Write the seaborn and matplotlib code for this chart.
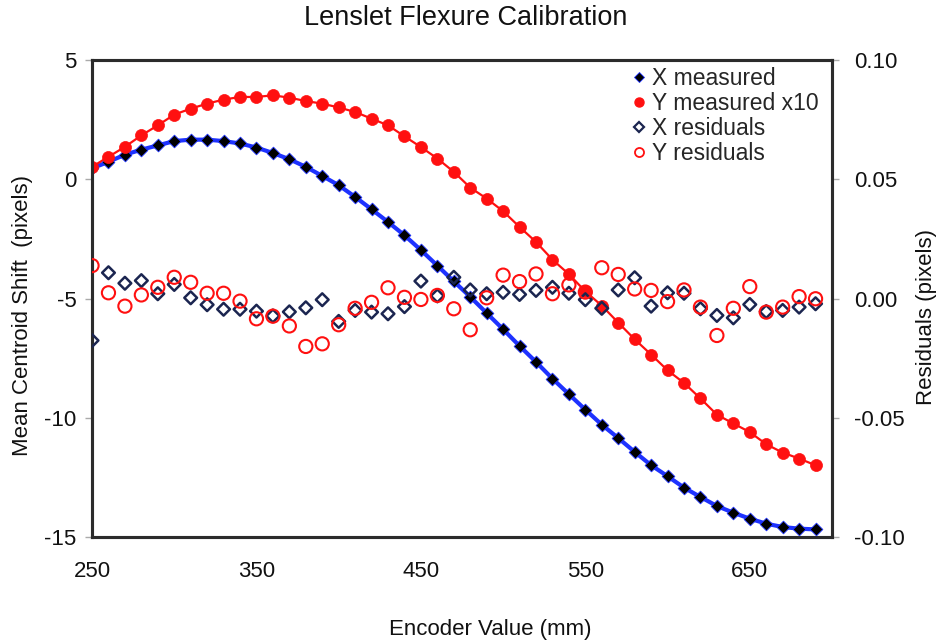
import matplotlib
matplotlib.use("Agg")
import matplotlib.pyplot as plt
import seaborn as sns
import pandas as pd
from matplotlib.lines import Line2D

encoder = [250, 260, 270, 280, 290, 300, 310, 320, 330, 340,
           350, 360, 370, 380, 390, 400, 410, 420, 430, 440,
           450, 460, 470, 480, 490, 500, 510, 520, 530, 540,
           550, 560, 570, 580, 590, 600, 610, 620, 630, 640,
           650, 660, 670, 680, 690]

x_measured = [0.46, 0.73, 1.03, 1.24, 1.42, 1.60, 1.66, 1.66, 1.60, 1.50,
              1.33, 1.10, 0.84, 0.52, 0.14, -0.25, -0.74, -1.26, -1.79, -2.35,
              -2.97, -3.62, -4.28, -4.93, -5.61, -6.29, -6.99, -7.66, -8.36, -9.01,
              -9.66, -10.29, -10.85, -11.43, -11.99, -12.45, -12.93, -13.32, -13.70, -13.98,
              -14.23, -14.44, -14.58, -14.65, -14.68]

y_measured_x10 = [0.52, 0.94, 1.36, 1.84, 2.26, 2.71, 2.96, 3.17, 3.34, 3.45,
                  3.45, 3.52, 3.42, 3.28, 3.17, 3.01, 2.82, 2.54, 2.26, 1.80,
                  1.35, 0.87, 0.31, -0.35, -0.81, -1.34, -2.00, -2.63, -3.37, -3.98,
                  -4.70, -5.30, -6.01, -6.71, -7.35, -8.01, -8.54, -9.19, -9.87, -10.24,
                  -10.60, -11.11, -11.46, -11.71, -11.99]

x_residuals = [-0.0176, 0.0108, 0.0064, 0.0075, 0.0020, 0.0059, 0.0003, -0.0026, -0.0045, -0.0045,
               -0.0053, -0.0073, -0.0056, -0.0039, -0.0005, -0.0096, -0.0050, -0.0057, -0.0064, -0.0034,
               0.0073, 0.0011, 0.0089, 0.0036, 0.0020, 0.0026, 0.0017, 0.0034, 0.0047, 0.0022,
               -0.0005, -0.0041, 0.0036, 0.0087, -0.0032, 0.0024, 0.0022, -0.0043, -0.0071, -0.0081,
               -0.0025, -0.0055, -0.0050, -0.0036, -0.0022]

y_residuals = [0.0138, 0.0024, -0.0032, 0.0015, 0.0047, 0.0089, 0.0068, 0.0022, 0.0022, -0.0011,
               -0.0085, -0.0074, -0.0115, -0.0201, -0.0190, -0.0110, -0.0041, -0.0016, 0.0045, 0.0005,
               -0.0004, 0.0013, -0.0043, -0.0131, 0.0003, 0.0098, 0.0071, 0.0103, 0.0020, 0.0057,
               0.0027, 0.0129, 0.0101, 0.0040, 0.0034, -0.0013, 0.0036, -0.0036, -0.0155, -0.0041,
               0.0050, -0.0057, -0.0036, 0.0008, -0.0001]

left_ticks = [5, 0, -5, -10, -15]
right_ticks = [0.10, 0.05, 0.00, -0.05, -0.10]
x_ticks = [250, 350, 450, 550, 650]

df = pd.DataFrame({"enc": encoder, "xm": x_measured, "ym": y_measured_x10,
                   "xr": x_residuals, "yr": y_residuals})

sns.set_style("white")
plt.rcParams["font.family"] = ["Liberation Sans", "DejaVu Sans"]

BLUE = "#1e32ff"
RED = "#ff1010"
NAVY = "#1b2550"
SPINE = "#2b2b2b"
TXT = "#111111"

fig = plt.figure(figsize=(9.4, 6.41), dpi=100)
ax = fig.add_axes([0.0979, 0.1622, 0.7872, 0.7442])
ax2 = ax.twinx()

# fit lines
sns.lineplot(data=df, x="enc", y="xm", ax=ax, color=BLUE, linewidth=3.0, zorder=2)
sns.lineplot(data=df, x="enc", y="ym", ax=ax, color=RED, linewidth=1.6, zorder=2)
# measured points
sns.scatterplot(data=df, x="enc", y="xm", ax=ax, marker="D", s=42, color="black",
                edgecolor=BLUE, linewidth=0.6, zorder=3)
sns.scatterplot(data=df, x="enc", y="ym", ax=ax, marker="o", s=75, color=RED,
                edgecolor=RED, linewidth=0.5, zorder=3)
# residuals
sns.scatterplot(data=df, x="enc", y="xr", ax=ax2, marker="D", s=42, facecolor="none",
                edgecolor=NAVY, linewidth=1.8, zorder=3)
sns.scatterplot(data=df, x="enc", y="yr", ax=ax2, marker="o", s=90, facecolor="none",
                edgecolor=RED, linewidth=1.5, zorder=3)

ax.set_xlim(250, 700)
ax.set_ylim(-15, 5)
ax2.set_ylim(-0.10, 0.10)
ax.set_xticks(x_ticks)
ax.set_xticklabels([str(t) for t in x_ticks])
ax.set_yticks(left_ticks)
ax.set_yticklabels([f"{t:d}" for t in left_ticks])
ax2.set_yticks(right_ticks)
ax2.set_yticklabels([f"{t:.2f}" for t in right_ticks])

for a in (ax, ax2):
    for s in a.spines.values():
        s.set_linewidth(2.2)
        s.set_color(SPINE)
    a.tick_params(length=5, width=1, color="#aaaaaa", labelsize=16, labelcolor=TXT)
ax.tick_params(axis="x", pad=12)
ax.tick_params(axis="y", pad=6)
ax2.tick_params(axis="y", pad=11)

ax.set_xlabel("Encoder Value (mm)", fontsize=16, color=TXT)
ax.xaxis.set_label_coords(0.538, -0.171)
ax.set_ylabel("Mean Centroid Shift  (pixels)", fontsize=16, color=TXT)
ax.yaxis.set_label_coords(-0.080, 0.465)
ax2.set_ylabel("Residuals (pixels)", fontsize=16, color=TXT)
ax2.yaxis.set_label_coords(1.114, 0.462)
ax.set_title("Lenslet Flexure Calibration", fontsize=19.5, pad=25, color=TXT, x=0.505)

handles = [
    Line2D([], [], marker="D", linestyle="none", markersize=5, markerfacecolor="black",
           markeredgecolor=BLUE, markeredgewidth=0.6),
    Line2D([], [], marker="o", linestyle="none", markersize=6.5, markerfacecolor=RED,
           markeredgecolor=RED),
    Line2D([], [], marker="D", linestyle="none", markersize=5, markerfacecolor="none",
           markeredgecolor=NAVY, markeredgewidth=1.6),
    Line2D([], [], marker="o", linestyle="none", markersize=6.5, markerfacecolor="none",
           markeredgecolor=RED, markeredgewidth=1.3),
]
labels = ["X measured", "Y measured x10", "X residuals", "Y residuals"]
ax2.legend(handles, labels, loc="upper left", bbox_to_anchor=(0.71, 1.018), frameon=False,
           fontsize=16.5, handlelength=0.5, handletextpad=0.3, labelspacing=0.08,
           borderaxespad=0.3)

fig.savefig("out.png", dpi=100)
